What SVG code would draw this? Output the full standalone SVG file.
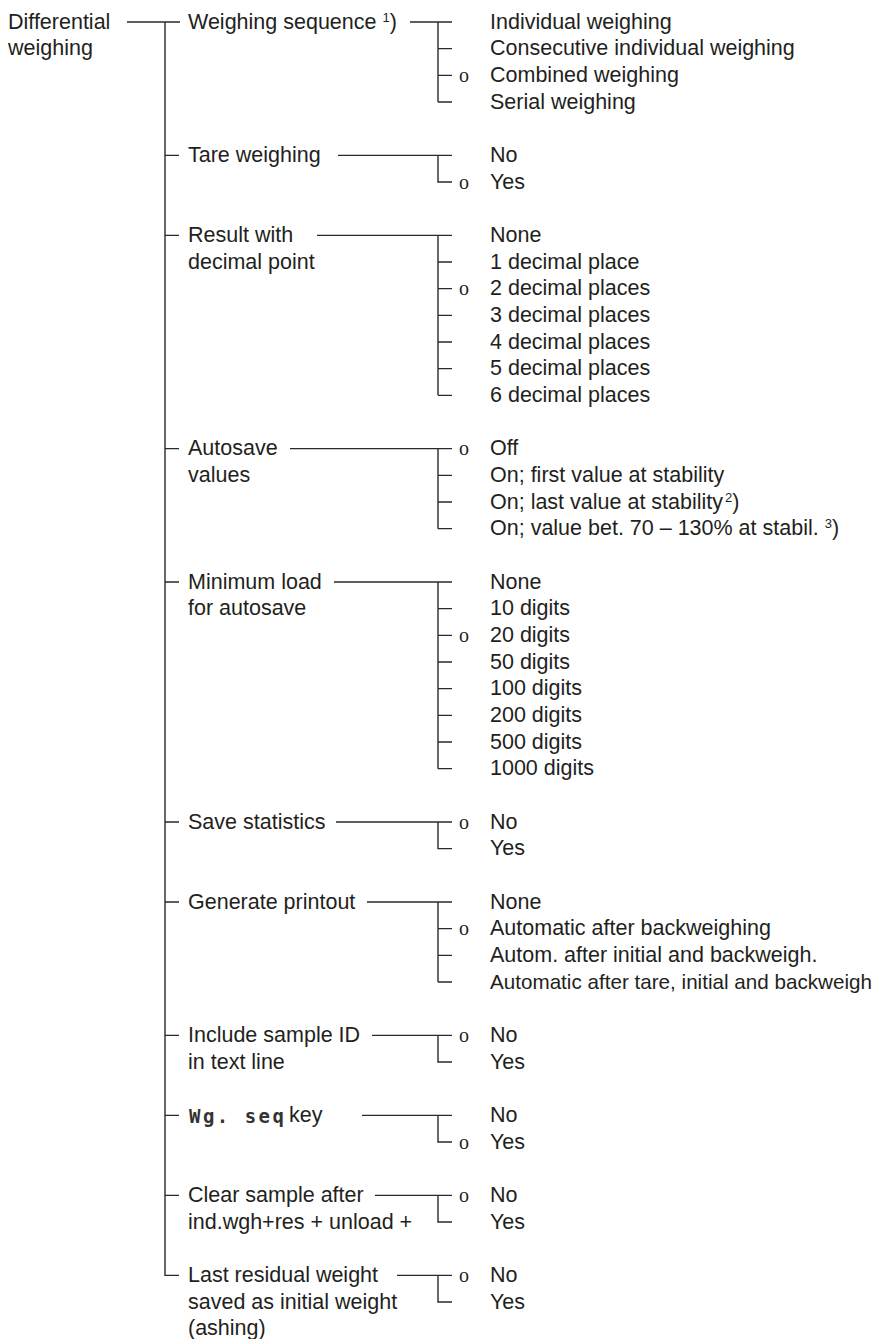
<svg xmlns="http://www.w3.org/2000/svg" width="881" height="1339" viewBox="0 0 881 1339">
<style>
text{font-family:"Liberation Sans",Arial,sans-serif;font-size:21.5px;fill:#231f20}
.sup{font-size:13px}
.o{font-family:"Liberation Serif",serif;font-size:20px}
.lcd{font-family:"DejaVu Sans Mono",monospace;font-weight:bold;font-size:19px;fill:#333}
.ln{fill:none;stroke:#2a2a2a;stroke-width:1.4}
</style>
<rect width="881" height="1339" fill="#fff"/>
<g id="connectors" class="ln">
<path d="M127,22H180M165,22V1275.33H179M165,155.33H179M165,235.33H179M165,448.67H179M165,582H179M165,822H179M165,902H179M165,1035.33H179M165,1115.33H179M165,1195.33H179"/>
<path d="M410,22H452M438,22V102M438,48.67H452M438,75.33H452M438,102H452"/>
<path d="M338,155.33H452M438,155.33V182H452"/>
<path d="M317,235.33H452M438,235.33V395.33M438,262H452M438,288.67H452M438,315.33H452M438,342H452M438,368.67H452M438,395.33H452"/>
<path d="M290,448.67H452M438,448.67V528.67M438,475.33H452M438,502H452M438,528.67H452"/>
<path d="M334,582H452M438,582V768.67M438,608.67H452M438,635.33H452M438,662H452M438,688.67H452M438,715.33H452M438,742H452M438,768.67H452"/>
<path d="M336,822H452M438,822V848.67H452"/>
<path d="M367,902H452M438,902V982M438,928.67H452M438,955.33H452M438,982H452"/>
<path d="M372,1035.33H452M438,1035.33V1062H452"/>
<path d="M362,1115.33H452M438,1115.33V1142H452"/>
<path d="M375,1195.33H452M438,1195.33V1222H452"/>
<path d="M397,1275.33H452M438,1275.33V1302H452"/>
</g>
<g id="root"><text x="8" y="28.5">Differential</text><text x="8" y="55.2">weighing</text></g>
<g id="n1">
<text x="188" y="28.5">Weighing sequence <tspan class="sup" dy="-7">1</tspan><tspan dy="7">)</tspan></text>
<text x="490" y="28.5">Individual weighing</text>
<text x="490" y="55.2">Consecutive individual weighing</text>
<text class="o" x="459" y="81.8">o</text><text x="490" y="81.8">Combined weighing</text>
<text x="490" y="108.5">Serial weighing</text>
</g>
<g id="n2">
<text x="188" y="161.8">Tare weighing</text>
<text x="490" y="161.8">No</text>
<text class="o" x="459" y="188.5">o</text><text x="490" y="188.5">Yes</text>
</g>
<g id="n3">
<text x="188" y="241.8">Result with</text><text x="188" y="268.5">decimal point</text>
<text x="490" y="241.8">None</text>
<text x="490" y="268.5">1 decimal place</text>
<text class="o" x="459" y="295.2">o</text><text x="490" y="295.2">2 decimal places</text>
<text x="490" y="321.8">3 decimal places</text>
<text x="490" y="348.5">4 decimal places</text>
<text x="490" y="375.2">5 decimal places</text>
<text x="490" y="401.8">6 decimal places</text>
</g>
<g id="n4">
<text x="188" y="455.2">Autosave</text><text x="188" y="481.8">values</text>
<text class="o" x="459" y="455.2">o</text><text x="490" y="455.2">Off</text>
<text x="490" y="481.8">On; first value at stability</text>
<text x="490" y="508.5">On; last value at stability<tspan class="sup" dx="2" dy="-7">2</tspan><tspan dy="7">)</tspan></text>
<text x="490" y="535.2">On; value bet. 70 – 130% at stabil. <tspan class="sup" dy="-7">3</tspan><tspan dy="7">)</tspan></text>
</g>
<g id="n5">
<text x="188" y="588.5">Minimum load</text><text x="188" y="615.2">for autosave</text>
<text x="490" y="588.5">None</text>
<text x="490" y="615.2">10 digits</text>
<text class="o" x="459" y="641.8">o</text><text x="490" y="641.8">20 digits</text>
<text x="490" y="668.5">50 digits</text>
<text x="490" y="695.2">100 digits</text>
<text x="490" y="721.8">200 digits</text>
<text x="490" y="748.5">500 digits</text>
<text x="490" y="775.2">1000 digits</text>
</g>
<g id="n6">
<text x="188" y="828.5">Save statistics</text>
<text class="o" x="459" y="828.5">o</text><text x="490" y="828.5">No</text>
<text x="490" y="855.2">Yes</text>
</g>
<g id="n7">
<text x="188" y="908.5">Generate printout</text>
<text x="490" y="908.5">None</text>
<text class="o" x="459" y="935.2">o</text><text x="490" y="935.2">Automatic after backweighing</text>
<text x="490" y="961.8">Autom. after initial and backweigh.</text>
<text x="490" y="988.5" style="font-size:20.8px" textLength="382" lengthAdjust="spacingAndGlyphs">Automatic after tare, initial and backweigh</text>
</g>
<g id="n8">
<text x="188" y="1041.8">Include sample ID</text><text x="188" y="1068.5">in text line</text>
<text class="o" x="459" y="1041.8">o</text><text x="490" y="1041.8">No</text>
<text x="490" y="1068.5">Yes</text>
</g>
<g id="n9">
<text class="lcd" x="189" y="1122.5" textLength="95" lengthAdjust="spacing">Wg. seq</text><text x="289" y="1121.8">key</text>
<text x="490" y="1121.8">No</text>
<text class="o" x="459" y="1148.5">o</text><text x="490" y="1148.5">Yes</text>
</g>
<g id="n10">
<text x="188" y="1201.8">Clear sample after</text><text x="188" y="1228.5">ind.wgh+res + unload +</text>
<text class="o" x="459" y="1201.8">o</text><text x="490" y="1201.8">No</text>
<text x="490" y="1228.5">Yes</text>
</g>
<g id="n11">
<text x="188" y="1281.8">Last residual weight</text><text x="188" y="1308.5">saved as initial weight</text><text x="188" y="1335.2">(ashing)</text>
<text class="o" x="459" y="1281.8">o</text><text x="490" y="1281.8">No</text>
<text x="490" y="1308.5">Yes</text>
</g>
</svg>
